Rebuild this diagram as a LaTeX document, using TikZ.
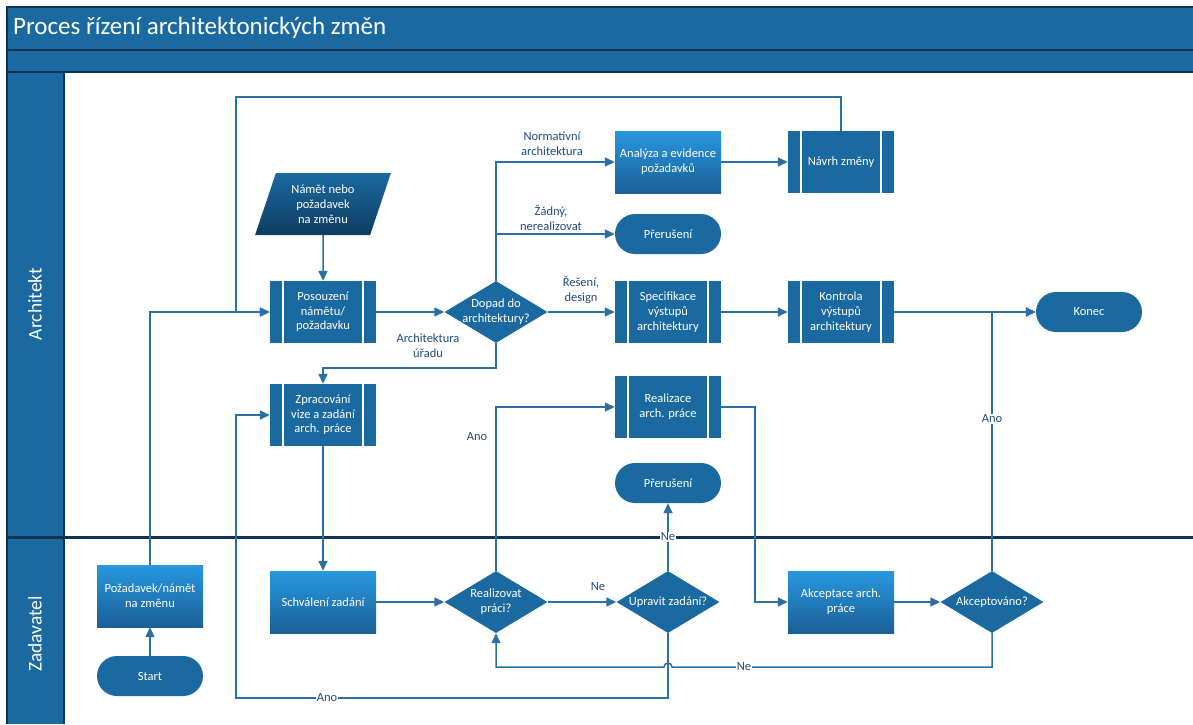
\documentclass[tikz,border=0pt]{standalone}
\usepackage{fontspec}
\setmainfont{Carlito}
\usetikzlibrary{shapes.geometric,arrows.meta}
\definecolor{mblue}{RGB}{26,106,161}
\definecolor{dblue}{RGB}{14,52,82}
\definecolor{lblue}{RGB}{40,152,224}
\definecolor{gblue}{RGB}{27,95,152}
\definecolor{pdark}{RGB}{14,60,96}
\definecolor{conncol}{RGB}{44,111,163}
\definecolor{ltext}{RGB}{31,78,121}
\begin{document}
\begin{tikzpicture}[x=1pt,y=-1pt,
  tfont/.style={font=\fontsize{12.5}{14.7}\selectfont},
  base/.style={draw=none, text=white, align=center, tfont, inner sep=0pt, minimum width=106pt},
  subproc/.style={base, fill=mblue, minimum height=62pt,
    path picture={\draw[white,line width=2.5pt]
      ([xshift=13pt]path picture bounding box.north west) -- ([xshift=13pt]path picture bounding box.south west)
      ([xshift=-13pt]path picture bounding box.north east) -- ([xshift=-13pt]path picture bounding box.south east);}},
  gradbox/.style={base, top color=lblue, bottom color=gblue, minimum height=62pt},
  term/.style={base, fill=mblue, rounded corners=20pt, minimum height=40pt},
  decis/.style={diamond, fill=mblue, minimum width=103pt, minimum height=62pt, inner sep=0pt},
  dtext/.style={text=white, align=center, tfont},
  para/.style={trapezium, trapezium left angle=70, trapezium right angle=110, trapezium stretches=true,
    minimum width=137pt, minimum height=62pt, inner sep=0pt, top color=mblue, bottom color=pdark,
    text=white, align=center, tfont},
  conn/.style={draw=conncol, line width=1.5pt},
  arr/.style={conn, -{Triangle[length=10pt,width=9pt]}},
  lbl/.style={text=ltext, align=center, tfont, inner sep=1pt},
  wlbl/.style={lbl, fill=white},
]
\useasboundingbox (0,0) rectangle (1193,724);
% frame
\fill[white] (0,0) rectangle (1193,724);
\fill[mblue] (7,7) rectangle (1193,72);
\fill[mblue] (7,72) rectangle (64,724);
\draw[dblue, line width=2pt] (7,724) -- (7,7) -- (1193,7);
\draw[dblue, line width=2pt] (7,50) -- (1193,50);
\draw[dblue, line width=2pt] (7,72) -- (1193,72);
\draw[dblue, line width=2pt] (64,72) -- (64,724);
\draw[dblue, line width=3pt] (7,537) -- (1193,537);
\node[anchor=west, text=white, font=\fontsize{25}{28}\selectfont, inner sep=0pt] (title) at (13,28) {Proces řízení architektonických změn};
\node[rotate=90, text=white, font=\fontsize{19.5}{22}\selectfont] (laneA) at (35,304) {Architekt};
\node[rotate=90, text=white, font=\fontsize{19.5}{22}\selectfont] (laneZ) at (35,634) {Zadavatel};

% nodes
\node[para] (idea) at (323,204) {Námět nebo\\požadavek\\na změnu};
\node[subproc] (pos) at (323,312) {Posouzení\\námětu/\\požadavku};
\node[decis, label={[dtext]center:Dopad do\\architektury?}] (dopad) at (496,312) {};
\node[gradbox] (ana) at (668,162) {Analýza a evidence\\požadavků};
\node[subproc] (navrh) at (841,162) {Návrh změny};
\node[term] (prer1) at (668,234) {Přerušení};
\node[subproc] (spec) at (668,312) {Specifikace\\výstupů\\architektury};
\node[subproc] (kontr) at (841,312) {Kontrola\\výstupů\\architektury};
\node[term] (konec) at (1089,312) {Konec};
\node[subproc] (zpr) at (323,415) {Zpracování\\vize a zadání\\arch. práce};
\node[subproc] (realiz) at (668,407) {Realizace\\arch. práce};
\node[term] (prer2) at (668,483) {Přerušení};
\node[gradbox] (pozad) at (150,596) {Požadavek/námět\\na změnu};
\node[term] (start) at (150,676) {Start};
\node[gradbox] (schv) at (323,602) {Schválení zadání};
\node[decis, label={[dtext]center:Realizovat\\práci?}] (real) at (496,602) {};
\node[decis, label={[dtext]center:Upravit zadání?}] (upr) at (668,602) {};
\node[gradbox] (akc) at (841,602) {Akceptace arch.\\práce};
\node[decis, label={[dtext]center:Akceptováno?}] (akcept) at (992,602) {};

\coordinate (ctop) at (236,97);
\coordinate (cbot) at (236,698);
\coordinate (hopR) at (672,667);

% connectors
\draw[arr] (idea.south) -- (pos.north);
\draw[arr] (pos.east) -- (dopad.west);
\draw[arr] (dopad.north) |- (ana.west);
\draw[arr] (dopad.north) |- (prer1.west);
\draw[arr] (dopad.east) -- (spec.west);
\draw[arr] (dopad.south) -- ++(0,25) -| (zpr.north);
\draw[arr] (ana.east) -- (navrh.west);
\draw[arr] (navrh.north) |- (ctop) |- (pos.west);
\draw[arr] (pozad.north) |- (pos.west);
\draw[arr] (spec.east) -- (kontr.west);
\draw[arr] (kontr.east) -- (konec.west);
\draw[arr] (akcept.north) |- (konec.west);
\draw[arr] (zpr.south) -- (schv.north);
\draw[arr] (schv.east) -- (real.west);
\draw[arr] (real.north) |- (realiz.west);
\draw[arr] (real.east) -- (upr.west);
\draw[arr] (upr.north) -- (prer2.south);
\draw[arr] (upr.south) |- (cbot) |- (zpr.west);
\draw[arr] (realiz.east) -- ++(34,0) |- (akc.west);
\draw[arr] (akc.east) -- (akcept.west);
\draw[arr] (akcept.south) |- (hopR) arc (0:-180:4) -| (real.south);
\draw[arr] (start.north) -- (pozad.south);

% labels
\node[lbl] (lnorm) at (552,144) {Normativní\\architektura};
\node[lbl] (lzad) at (551,218) {Žádný,\\nerealizovat};
\node[lbl] (lres) at (581,290) {Řešení,\\design};
\node[lbl] (larch) at (428,346) {Architektura\\úřadu};
\node[lbl] (lano1) at (477,437) {Ano};
\node[lbl] (lne1) at (598,587) {Ne};
\node[wlbl] (lne2) at (668,537) {Ne};
\node[wlbl] (lano2) at (327,698) {Ano};
\node[wlbl] (lne3) at (744,667) {Ne};
\node[wlbl] (lano3) at (992,419) {Ano};
\end{tikzpicture}
\end{document}
